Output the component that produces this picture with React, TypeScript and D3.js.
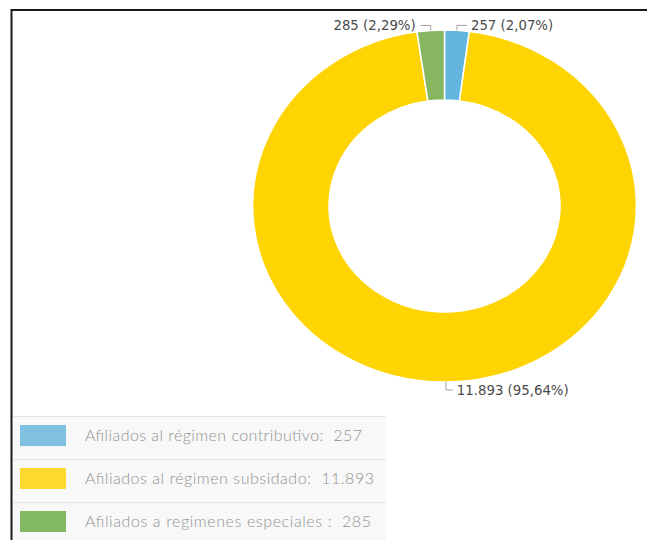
import React from "react";
import * as d3 from "d3";

const categories = [
  "Afiliados al régimen contributivo:",
  "Afiliados al régimen subsidado:",
  "Afiliados a regimenes especiales :",
];
const values = [257, 11893, 285];
const valueLabels = ["257", "11.893", "285"];
const percentLabels = ["2,07%", "95,64%", "2,29%"];
const sliceColors = ["#62b6dd", "#fed403", "#86b660"];
const legendColors = ["#80c1e1", "#fbd92f", "#83b863"];
const legendTextWidths = [277, 289, 286];

const W = 647;
const H = 540;
const cx = 444.5;
const cy = 206;
const rOuter = 176;
const rInner = 106;
const sx = 1.09;

export default function App() {
  const pie = d3
    .pie<number>()
    .sort(null)
    .startAngle(0)
    .endAngle(2 * Math.PI)
    .value((d) => d);
  const arcs = pie(values);
  const arcGen = d3.arc<d3.PieArcDatum<number>>().innerRadius(rInner).outerRadius(rOuter);

  const legendTop = 416;
  const rowH = 43;

  return (
    <svg
      width={W}
      height={H}
      style={{ position: "absolute", left: 0, top: 0, background: "#fff" }}
    >
      <rect x={0} y={0} width={W} height={H} fill="#fff" />
      {/* frame */}
      <line x1={11} y1={10} x2={W} y2={10} stroke="#1a1a1a" strokeWidth={2} />
      <line x1={11.5} y1={9} x2={11.5} y2={H} stroke="#1a1a1a" strokeWidth={2} />

      {/* donut */}
      <g transform={`translate(${cx},${cy}) scale(${sx},1)`}>
        {arcs.map((a, i) => (
          <path
            key={i}
            d={arcGen(a) || ""}
            fill={sliceColors[i]}
            stroke="#fff"
            strokeWidth={1.5}
            vectorEffect="non-scaling-stroke"
            strokeLinejoin="round"
          />
        ))}
      </g>

      {/* data labels */}
      {arcs.map((a, i) => {
        const mid = (a.startAngle + a.endAngle) / 2;
        const px = cx + sx * rOuter * Math.sin(mid);
        const py = cy - rOuter * Math.cos(mid);
        const top = Math.cos(mid) > 0;
        const right = Math.sin(mid) >= -0.01;
        const ey = top ? py - 5 : py + 8;
        const hl = top ? 10 : 7;
        const ex = right ? px + hl : px - hl;
        const tx = right ? ex + 4 : ex - 5;
        return (
          <g key={i}>
            <polyline
              points={`${px},${py} ${px},${ey} ${ex},${ey}`}
              fill="none"
              stroke="#a0a0a0"
              strokeWidth={1}
            />
            <text
              x={tx}
              y={ey + 5}
              textAnchor={right ? "start" : "end"}
              fontFamily="'DejaVu Sans', Verdana, sans-serif"
              fontSize={13.3}
              fill="#4a4a4a"
            >
              {`${valueLabels[i]} (${percentLabels[i]})`}
            </text>
          </g>
        );
      })}

      {/* legend */}
      {categories.map((c, i) => {
        const y0 = legendTop + i * rowH;
        return (
          <g key={i}>
            <rect x={13} y={y0} width={373} height={rowH} fill="#f8f8f8" />
            <line x1={13} y1={y0 + 0.5} x2={386} y2={y0 + 0.5} stroke="#e3e3e3" strokeWidth={1} />
            <rect x={20} y={y0 + 9} width={46} height={21} fill={legendColors[i]} />
            <text
              x={85}
              y={y0 + 25}
              fontFamily="Lato, 'Open Sans', sans-serif"
              fontWeight={300}
              fontSize={16}
              fill="#929292"
              textLength={legendTextWidths[i]}
              lengthAdjust="spacing"
              style={{ whiteSpace: "pre" }}
            >
              {`${c}  ${valueLabels[i]}`}
            </text>
          </g>
        );
      })}
    </svg>
  );
}
